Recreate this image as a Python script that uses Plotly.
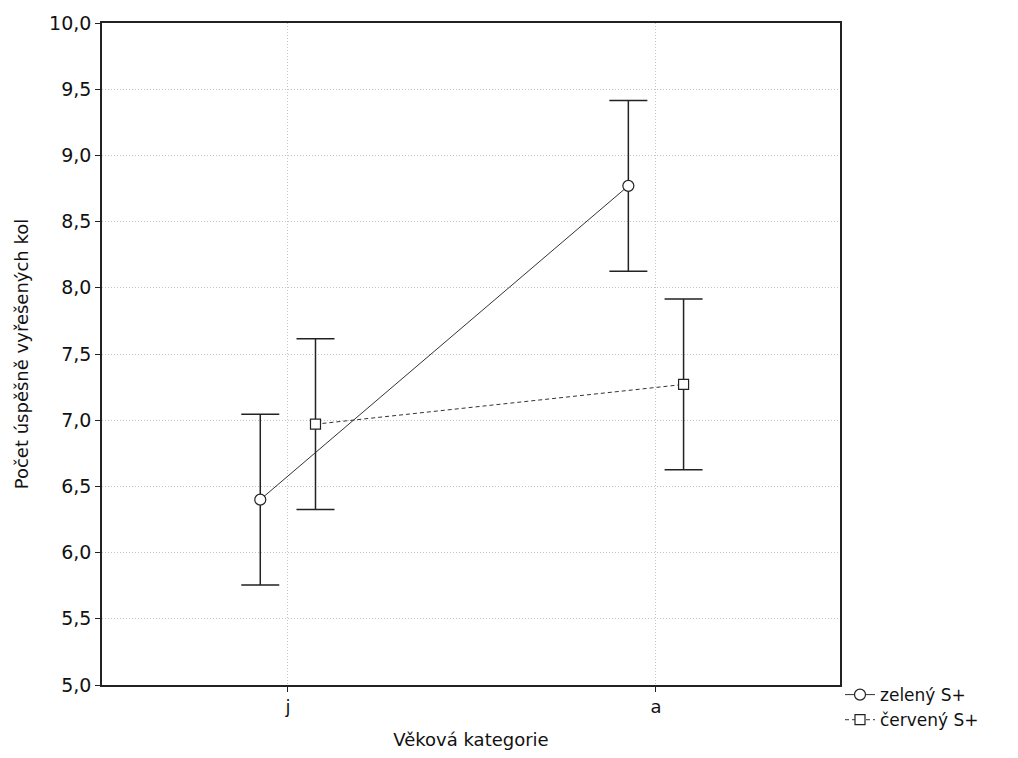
import plotly.graph_objects as go

categories = ["j", "a"]
series_names = ["zelený S+", "červený S+"]
means_green = [6.40, 8.77]
err_green = [0.645, 0.645]
means_red = [6.97, 7.27]
err_red = [0.645, 0.645]
yticks = [5.0, 5.5, 6.0, 6.5, 7.0, 7.5, 8.0, 8.5, 9.0, 9.5, 10.0]

offset = 0.075
xpos = list(range(len(categories)))
x_green = [p - offset for p in xpos]
x_red = [p + offset for p in xpos]

line_col = "#222222"
fig = go.Figure()
fig.add_trace(go.Scatter(
    x=x_green, y=means_green, name=series_names[0], mode="lines+markers",
    line=dict(color="#333333", width=1, dash="solid"),
    marker=dict(symbol="circle", size=11, color="white", line=dict(color=line_col, width=1.2)),
    error_y=dict(type="data", array=err_green, visible=True, color=line_col, thickness=1.5, width=19),
))
fig.add_trace(go.Scatter(
    x=x_red, y=means_red, name=series_names[1], mode="lines+markers",
    line=dict(color="#333333", width=1, dash="4px,3px"),
    marker=dict(symbol="square", size=10, color="white", line=dict(color=line_col, width=1.2)),
    error_y=dict(type="data", array=err_red, visible=True, color=line_col, thickness=1.5, width=19),
))

fig.update_layout(
    width=1018, height=758,
    margin=dict(l=102, r=178, t=23, b=73),
    paper_bgcolor="white", plot_bgcolor="white",
    font=dict(family="DejaVu Sans, Liberation Sans, sans-serif", size=18, color="#111111"),
    separators=",.",
    showlegend=True,
    legend=dict(x=1.0, y=0.012, xanchor="left", yanchor="top", bgcolor="rgba(0,0,0,0)",
                font=dict(size=17), tracegroupgap=0, itemwidth=30),
)
fig.update_xaxes(
    range=[-0.505, 1.5], tickvals=xpos, ticktext=categories,
    showgrid=True, gridcolor="#c4c4c4", griddash="1px,2px", gridwidth=1,
    showline=True, linecolor="#222222", linewidth=1.6, mirror=True,
    ticks="outside", ticklen=5, tickcolor="#222222", zeroline=False,
    tickfont=dict(size=18),
    title=dict(text="Věková kategorie", standoff=17, font=dict(size=18)),
)
fig.update_yaxes(
    range=[5.0, 10.0], tickvals=yticks, tickformat=".1f",
    showgrid=True, gridcolor="#c4c4c4", griddash="1px,2px", gridwidth=1,
    showline=True, linecolor="#222222", linewidth=1.6, mirror=True,
    ticks="outside", ticklen=5, tickcolor="#222222", zeroline=False,
    tickfont=dict(size=19),
    title=dict(text="Počet úspěšně vyřešených kol", standoff=16, font=dict(size=18)),
)
fig.write_html("out.html")
